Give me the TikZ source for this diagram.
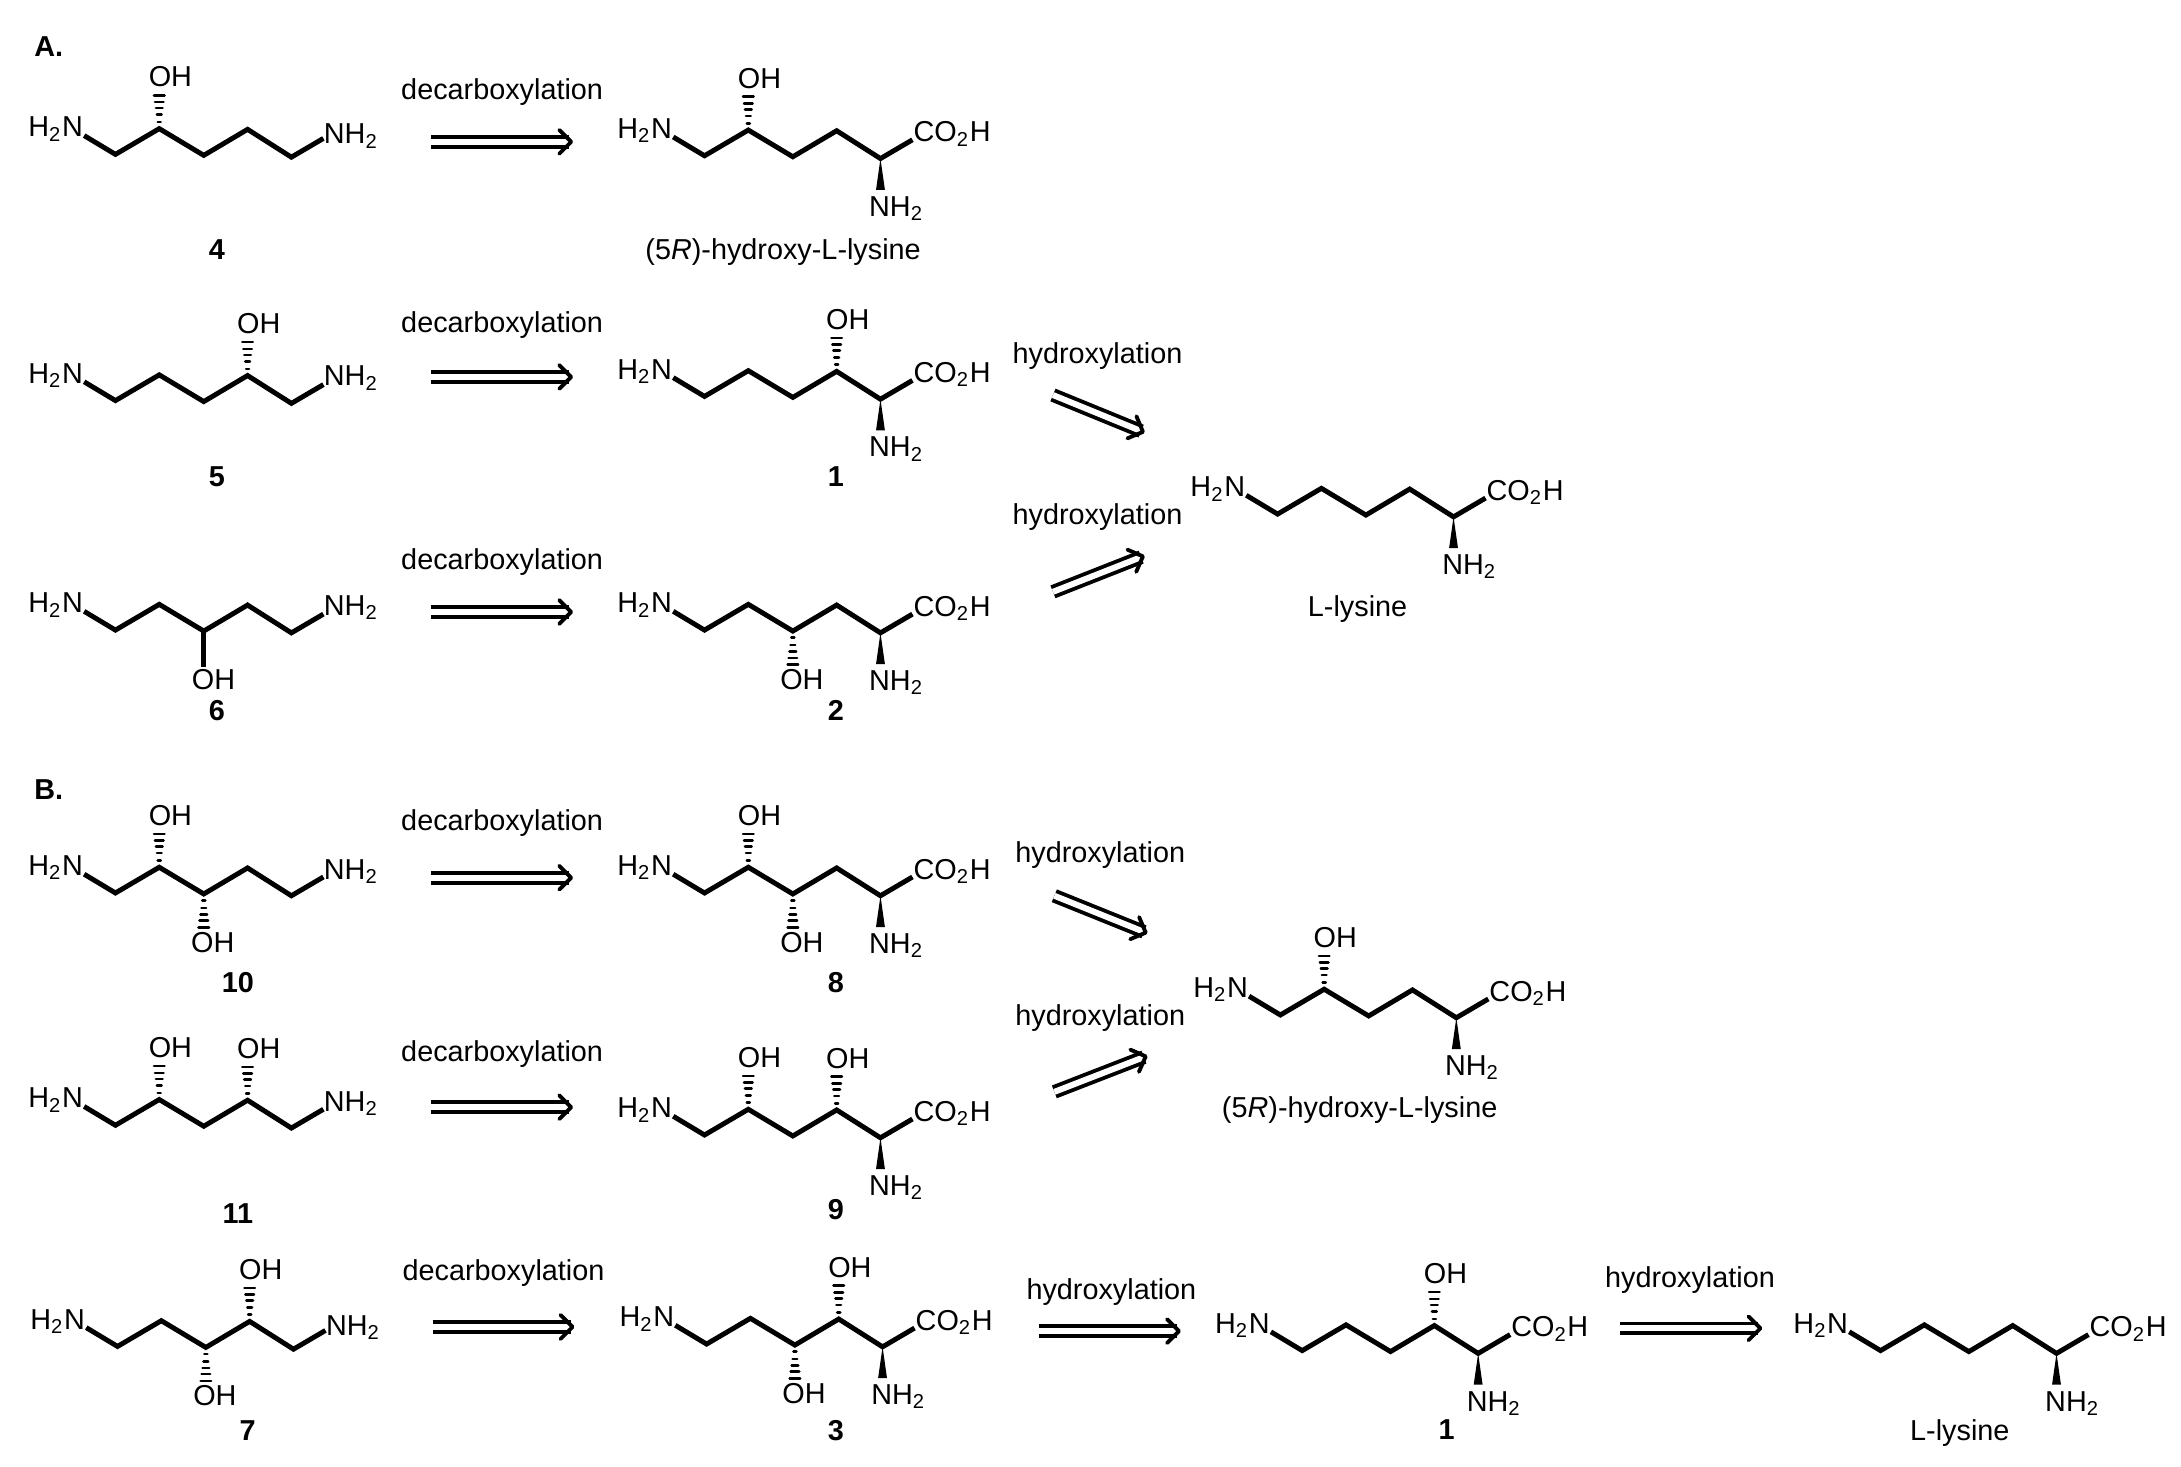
\documentclass[tikz,border=0pt]{standalone}
\usepackage{fontspec}
\setmainfont{Liberation Sans}
\usetikzlibrary{arrows.meta}

\newcommand{\lowtwo}{\textsubscript{2}}

\tikzset{
  bondline/.style={line width=1.4pt, line join=miter, line cap=butt},
  hashline/.style={line width=0.72pt, line cap=round},
  atomlabel/.style={anchor=base, inner sep=0pt, font=\fontsize{8.2}{10}\selectfont},
  textlabel/.style={inner sep=0pt, yshift=-0.8pt, font=\fontsize{8.2}{10}\selectfont},
  cmpdlabel/.style={inner sep=0pt, yshift=-0.3pt, font=\fontsize{8.2}{10}\selectfont\bfseries},
  retro/.style={line width=1.1pt, double, double distance=1.7pt, -{Straight Barb[length=3.4pt,width=6.8pt,line width=1.1pt,round]}}
}

% zigzag of five carbons, #1 is the prefix of the atom names
\newcommand{\backbone}[3]{
  \coordinate (#1-0) at (#2,#3);
  \coordinate (#1-1) at (#2+31.5,#3-18.5);
  \coordinate (#1-2) at (#2+63.5,#3+0.7);
  \coordinate (#1-3) at (#2+95,#3-18);
  \coordinate (#1-4) at (#2+126.5,#3+2);
  \coordinate (#1-s) at (#2-22.5,#3-13.5);
  \coordinate (#1-e) at (#2+149.5,#3-11.5);
  \draw[bondline] (#1-s) -- (#1-0) -- (#1-1) -- (#1-2) -- (#1-3) -- (#1-4) -- (#1-e);
  \node[atomlabel] (#1-nl) at ([shift={(-43,-12.5)}]#1-0) {H\lowtwo N};
}
\newcommand{\amineend}[2]{
  \node[atomlabel] (#1-nr) at ([shift={(43,#2)}]#1-4) {NH\lowtwo};
}
\newcommand{\acidend}[1]{
  \fill (#1-4) -- ([shift={(-3.2,22.5)}]#1-4) -- ([shift={(3.2,22.5)}]#1-4) -- cycle;
  \node[atomlabel] (#1-co) at ([shift={(51.5,-12)}]#1-4) {CO\lowtwo H};
  \node[atomlabel] (#1-nh) at ([shift={(11.5,41.5)}]#1-4) {NH\lowtwo};
}
\newcommand{\hashbond}[2]{
  \foreach \t/\w in {.2/2.2,.42/3.4,.62/4.8,.8/6.2,1/7.6}{
    \draw[hashline] ([shift={(-\w/2,#2*\t)}]#1) -- ([shift={(\w/2,#2*\t)}]#1);
  }
}
\newcommand{\ohup}[1]{
  \hashbond{#1}{-24}
  \node[atomlabel] (#1-oh) at ([shift={(8,-30)}]#1) {OH};
}
\newcommand{\ohdown}[1]{
  \hashbond{#1}{24}
  \node[atomlabel] (#1-oh) at ([shift={(6.5,42)}]#1) {OH};
}

\begin{document}
\begin{tikzpicture}[x=0.01391cm, y=-0.01391cm]
  \useasboundingbox (0,0) rectangle (1568,1054.6);

  % part A
  \node[cmpdlabel] (parta) at (35,33) {A.};

  \backbone{mfour}{83}{111}
  \amineend{mfour}{-9.5}
  \ohup{mfour-1}
  \node[cmpdlabel] (lfour) at (156,179) {4};
  \node[textlabel] (dca) at (361,64) {decarboxylation};
  \coordinate (dca-s) at (310,102);
  \coordinate (dca-e) at (412,102);
  \draw[retro] (dca-s) -- (dca-e);
  \backbone{hyl}{506.5}{112}
  \acidend{hyl}
  \ohup{hyl-1}
  \node[textlabel] (lhyl) at (563,179) {(5\textit{R})-hydroxy-L-lysine};

  \backbone{mfive}{83}{288}
  \amineend{mfive}{-12.5}
  \ohup{mfive-3}
  \node[cmpdlabel] (lfive) at (156,342) {5};
  \node[textlabel] (dcb) at (361,232) {decarboxylation};
  \coordinate (dcb-s) at (310,271);
  \coordinate (dcb-e) at (412,271);
  \draw[retro] (dcb-s) -- (dcb-e);
  \backbone{mone}{506.5}{285}
  \acidend{mone}
  \ohup{mone-3}
  \node[cmpdlabel] (lone) at (601,342) {1};

  \backbone{msix}{83}{453}
  \amineend{msix}{-12.5}
  \draw[bondline] (msix-2) -- ([shift={(0,26)}]msix-2);
  \node[atomlabel] (msix-oh) at ([shift={(7,42)}]msix-2) {OH};
  \node[cmpdlabel] (lsix) at (156,510) {6};
  \node[textlabel] (dcc) at (361,402) {decarboxylation};
  \coordinate (dcc-s) at (310,440);
  \coordinate (dcc-e) at (412,440);
  \draw[retro] (dcc-s) -- (dcc-e);
  \backbone{mtwo}{506.5}{453}
  \acidend{mtwo}
  \ohdown{mtwo-2}
  \node[cmpdlabel] (ltwo) at (601,510) {2};

  \node[textlabel] (hxa) at (789,254) {hydroxylation};
  \coordinate (hxa-s) at (757,284);
  \coordinate (hxa-e) at (823,311);
  \draw[retro] (hxa-s) -- (hxa-e);
  \node[textlabel] (hxb) at (789,370) {hydroxylation};
  \coordinate (hxb-s) at (757,425.5);
  \coordinate (hxb-e) at (823,399.5);
  \draw[retro] (hxb-s) -- (hxb-e);
  \backbone{lys}{918.5}{369.6}
  \acidend{lys}
  \node[textlabel] (llys) at (976,436) {L-lysine};

  % part B
  \node[cmpdlabel] (partb) at (35,567) {B.};

  \backbone{mten}{83}{642}
  \amineend{mten}{-12}
  \ohup{mten-1}
  \ohdown{mten-2}
  \node[cmpdlabel] (lten) at (171,706) {10};
  \node[textlabel] (dcd) at (361,590) {decarboxylation};
  \coordinate (dcd-s) at (310,631);
  \coordinate (dcd-e) at (412,631);
  \draw[retro] (dcd-s) -- (dcd-e);
  \backbone{meig}{506.5}{642}
  \acidend{meig}
  \ohup{meig-1}
  \ohdown{meig-2}
  \node[cmpdlabel] (leig) at (601,706) {8};

  \backbone{mele}{83}{809}
  \amineend{mele}{-12}
  \ohup{mele-1}
  \ohup{mele-3}
  \node[cmpdlabel] (lele) at (171,872) {11};
  \node[textlabel] (dce) at (361,756) {decarboxylation};
  \coordinate (dce-s) at (310,796);
  \coordinate (dce-e) at (412,796);
  \draw[retro] (dce-s) -- (dce-e);
  \backbone{mnin}{506.5}{816}
  \acidend{mnin}
  \ohup{mnin-1}
  \ohup{mnin-3}
  \node[cmpdlabel] (lnin) at (601,869) {9};

  \node[textlabel] (hxc) at (791,613) {hydroxylation};
  \coordinate (hxc-s) at (758,644);
  \coordinate (hxc-e) at (825,671);
  \draw[retro] (hxc-s) -- (hxc-e);
  \node[textlabel] (hxd) at (791,730) {hydroxylation};
  \coordinate (hxd-s) at (758,785);
  \coordinate (hxd-e) at (825,759);
  \draw[retro] (hxd-s) -- (hxd-e);
  \backbone{hylb}{920.5}{729.7}
  \acidend{hylb}
  \ohup{hylb-1}
  \node[textlabel] (lhylb) at (977.5,796) {(5\textit{R})-hydroxy-L-lysine};

  \backbone{msev}{84.5}{968}
  \amineend{msev}{-10}
  \ohup{msev-3}
  \ohdown{msev-2}
  \node[cmpdlabel] (lsev) at (178,1028) {7};
  \node[textlabel] (dcf) at (362,913) {decarboxylation};
  \coordinate (dcf-s) at (311,954);
  \coordinate (dcf-e) at (413,954);
  \draw[retro] (dcf-s) -- (dcf-e);
  \backbone{mthr}{508}{966.3}
  \acidend{mthr}
  \ohup{mthr-3}
  \ohdown{mthr-2}
  \node[cmpdlabel] (lthr) at (601,1028) {3};

  \node[textlabel] (hxe) at (799,927) {hydroxylation};
  \coordinate (hxe-s) at (747,957);
  \coordinate (hxe-e) at (849,957);
  \draw[retro] (hxe-s) -- (hxe-e);
  \backbone{monb}{936.2}{971}
  \acidend{monb}
  \ohup{monb-3}
  \node[cmpdlabel] (lonb) at (1040,1027) {1};

  \node[textlabel] (hxf) at (1215,918) {hydroxylation};
  \coordinate (hxf-s) at (1165,955);
  \coordinate (hxf-e) at (1267,955);
  \draw[retro] (hxf-s) -- (hxf-e);
  \backbone{lysb}{1352}{971}
  \acidend{lysb}
  \node[textlabel] (llysb) at (1409,1028) {L-lysine};
\end{tikzpicture}
\end{document}
